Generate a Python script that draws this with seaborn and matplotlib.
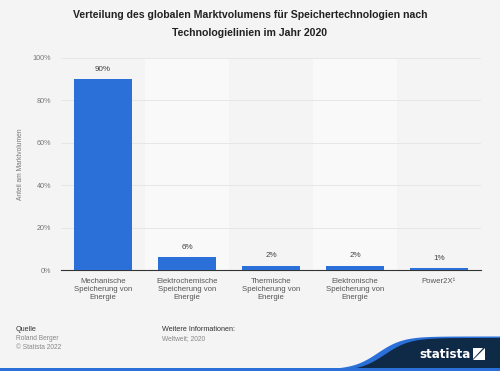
import numpy as np
import pandas as pd
import matplotlib.pyplot as plt
import seaborn as sns
from matplotlib.patches import Polygon, Rectangle

# Daten
kategorien = ['Mechanische\nSpeicherung von\nEnergie',
              'Elektrochemische\nSpeicherung von\nEnergie',
              'Thermische\nSpeicherung von\nEnergie',
              'Elektronische\nSpeicherung von\nEnergie',
              'Power2X¹']
anteile = [90, 6, 2, 2, 1]
y_ticks = [0, 20, 40, 60, 80, 100]

df = pd.DataFrame({'Kategorie': kategorien, 'Anteil': anteile})

sns.set_style('white')
plt.rcParams['font.family'] = ['Liberation Sans', 'DejaVu Sans']

bg = '#f4f4f4'
fig = plt.figure(figsize=(5, 3.71), dpi=100, facecolor=bg)
ax = fig.add_axes([0.122, 0.272, 0.84, 0.572])
ax.set_facecolor(bg)

# abwechselnde Hintergrundstreifen
for i in range(len(kategorien)):
    if i % 2 == 1:
        ax.axvspan(i - 0.5, i + 0.5, color='#f9f9f9', zorder=0, lw=0)

sns.barplot(data=df, x='Kategorie', y='Anteil', color='#2a70d8',
            width=0.68, saturation=1, linewidth=0, edgecolor='none', ax=ax, zorder=3)

ax.set_ylim(0, 100)
ax.set_xlim(-0.5, len(kategorien) - 0.5)
ax.set_yticks(y_ticks)
ax.set_yticklabels([f'{t}%' for t in y_ticks], fontsize=5.2, color='#777777')
ax.yaxis.grid(True, color='#e6e6e6', lw=0.7, zorder=1)
ax.set_axisbelow(True)
ax.tick_params(axis='y', length=0, pad=7)
ax.tick_params(axis='x', length=0, pad=6)
for lbl in ax.get_xticklabels():
    lbl.set_fontsize(5.6)
    lbl.set_color('#555555')
for s in ['top', 'right', 'left']:
    ax.spines[s].set_visible(False)
ax.spines['bottom'].set_color('#333333')
ax.spines['bottom'].set_linewidth(0.8)
ax.set_xlabel('')
ax.set_ylabel('Anteil am Marktvolumen', fontsize=4.8, color='#777777', labelpad=6)

for i, v in enumerate(anteile):
    ax.text(i, v + 3, f'{v}%', ha='center', va='bottom', fontsize=5.8, color='#444444')

# Titel
fig.text(0.5, 0.972, 'Verteilung des globalen Marktvolumens für Speichertechnologien nach\nTechnologielinien im Jahr 2020',
         ha='center', va='top', fontsize=7.6, fontweight='bold', color='#222222', linespacing=1.95)

# Fußzeile
fig.text(0.032, 0.108, 'Quelle', fontsize=5.2, color='#333333')
fig.text(0.032, 0.083, 'Roland Berger', fontsize=4.8, color='#888888')
fig.text(0.032, 0.06, '© Statista 2022', fontsize=4.8, color='#888888')
fig.text(0.323, 0.108, 'Weitere Informationen:', fontsize=5.2, color='#333333')
fig.text(0.323, 0.083, 'Weltweit; 2020', fontsize=4.8, color='#888888')

# Logo-Hintergrund
xs = np.linspace(0.55, 1.0, 80)
wave = 0.089 / (1 + np.exp(-(xs - 0.77) * 40))
pts_blue = [(0.55, 0.0)] + list(zip(xs - 0.014, wave + 0.004)) + [(1.0, 0.093), (1.0, 0.0)]
fig.patches.append(Polygon(pts_blue, closed=True, transform=fig.transFigure,
                           facecolor='#2a70d8', edgecolor='none'))
pts_dark = [(0.55, 0.0)] + list(zip(xs, wave)) + [(1.0, 0.0)]
fig.patches.append(Polygon(pts_dark, closed=True, transform=fig.transFigure,
                           facecolor='#0f2a47', edgecolor='none'))
fig.patches.append(Rectangle((0, 0), 1, 0.008, transform=fig.transFigure,
                             facecolor='#2a70d8', edgecolor='none'))
fig.text(0.89, 0.044, 'statista', fontsize=8.6, fontweight='bold', color='white',
         ha='center', va='center', family=['DejaVu Sans'])
fig.patches.append(Polygon([(0.946, 0.029), (0.970, 0.029), (0.970, 0.061)], closed=True,
                           transform=fig.transFigure, facecolor='white', edgecolor='none'))
fig.patches.append(Polygon([(0.946, 0.033), (0.946, 0.061), (0.966, 0.061)], closed=True,
                           transform=fig.transFigure, facecolor='white', edgecolor='none'))

fig.savefig('out.png', dpi=100, facecolor=bg)
